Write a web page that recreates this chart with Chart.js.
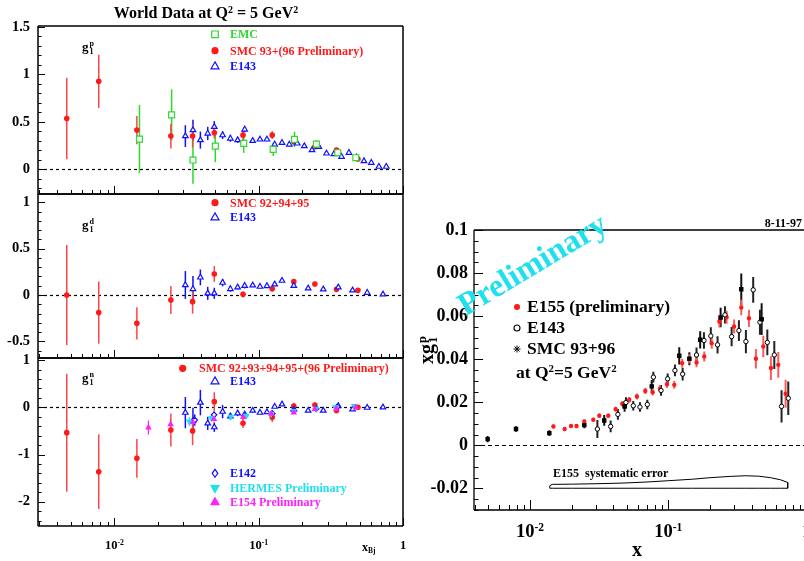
<!DOCTYPE html>
<html>
<head>
<meta charset="utf-8">
<script src="https://cdn.jsdelivr.net/npm/chart.js@4.4.0/dist/chart.umd.min.js"></script>
<style>
html, body { margin:0; padding:0; background:#fff; overflow:hidden; width:804px; height:561px; }
body { position:relative; font-family:'Liberation Serif','Times New Roman',serif; font-weight:bold; }
canvas { position:absolute; }
.t { position:absolute; white-space:nowrap; line-height:1; }
.t sup { font-size:0.62em; vertical-align:baseline; position:relative; top:-0.55em; }
.t sub { font-size:0.62em; vertical-align:baseline; position:relative; top:0.3em; }
.ss { display:inline-flex; flex-direction:column; vertical-align:middle; font-size:0.62em; line-height:0.95; margin-left:1px; }
</style>
</head>
<body>
<canvas id="c-top" width="410" height="220" style="left:0;top:0"></canvas>
<canvas id="c-mid" width="410" height="215" style="left:0;top:170px"></canvas>
<canvas id="c-bot" width="410" height="226" style="left:0;top:335px"></canvas>
<canvas id="c-right" width="400" height="361" style="left:420px;top:200px"></canvas>
<script>
const SERIF = "'Liberation Serif','Times New Roman',serif";

// ---------- left panels: x bins ----------
const smcX = [0.00467, 0.00778, 0.0143, 0.0246, 0.0348, 0.0492, 0.0778, 0.124, 0.175, 0.245, 0.346, 0.487];
const e143TopX = [0.031, 0.035, 0.0394, 0.0443, 0.0492, 0.0562, 0.0636, 0.0714, 0.0799, 0.0908, 0.102, 0.114, 0.129, 0.145,
                  0.163, 0.185, 0.207, 0.234, 0.261, 0.295, 0.332, 0.375, 0.422, 0.476, 0.536, 0.603, 0.681, 0.766];
const e143X = [0.031, 0.035, 0.0394, 0.0443, 0.0492, 0.0562, 0.0636, 0.0714, 0.0799, 0.0908, 0.102, 0.114, 0.129, 0.145,
               0.175, 0.22, 0.28, 0.356, 0.447, 0.565, 0.726];

// g1 proton
const smcP = [0.535, 0.927, 0.413, 0.350, 0.350, 0.385, 0.360, 0.360, 0.290, 0.238, 0.203, 0.108];
const smcPErr = [0.43, 0.28, 0.15, 0.13, 0.12, 0.06, 0.05, 0.04, 0.03, 0.02, 0.02, 0.015];
const emcX = [0.0149, 0.0249, 0.035, 0.05, 0.0787, 0.126, 0.177, 0.251, 0.353, 0.471];
const emcP = [0.318, 0.573, 0.098, 0.245, 0.273, 0.21, 0.315, 0.266, 0.175, 0.122];
const emcPErr = [0.36, 0.27, 0.25, 0.17, 0.10, 0.07, 0.08, 0.04, 0.03, 0.02];
const e143P = [0.35, 0.413, 0.308, 0.378, 0.448, 0.36, 0.325, 0.308, 0.42, 0.30, 0.315, 0.315, 0.262, 0.28,
               0.262, 0.273, 0.245, 0.203, 0.238, 0.168, 0.161, 0.133, 0.175, 0.126, 0.087, 0.07, 0.028, 0.028];
const e143PErr = [0.115, 0.11, 0.09, 0.07, 0.06, 0.04, 0.035, 0.03, 0.03, 0.02, 0.02, 0.02, 0.018, 0.015,
                  0.015, 0.014, 0.013, 0.012, 0.012, 0.011, 0.01, 0.01, 0.01, 0.01, 0.009, 0.009, 0.008, 0.008];

// g1 deuteron
const smcD = [0, -0.19, -0.306, -0.054, -0.072, 0.227, 0.007, 0.068, 0.144, 0.119, 0.061, 0.05];
const smcDErr = [0.54, 0.335, 0.175, 0.15, 0.13, 0.085, 0.03, 0.03, 0.02, 0.015, 0.01, 0.01];
const e143D = [0.108, 0.065, 0.19, 0.018, 0.018, 0.133, 0.065, 0.083, 0.1, 0.104, 0.09, 0.097, 0.115, 0.155,
               0.1, 0.072, 0.061, 0.083, 0.05, 0.025, 0.007];
const e143DErr = [0.15, 0.14, 0.085, 0.07, 0.06, 0.04, 0.03, 0.025, 0.03, 0.02, 0.02, 0.02, 0.02, 0.018,
                  0.015, 0.013, 0.012, 0.012, 0.01, 0.01, 0.01];

// g1 neutron
const smcN = [-0.537, -1.364, -1.08, -0.48, -0.50, 0.12, -0.34, -0.21, 0.028, 0.05, -0.07, 0.0];
const smcNErr = [1.25, 0.79, 0.41, 0.35, 0.3, 0.2, 0.1, 0.1, 0.07, 0.05, 0.04, 0.02];
const e143N = [-0.113, -0.28, 0.1, -0.34, -0.42, -0.092, -0.19, -0.127, -0.15, -0.07, -0.113, -0.1, 0.014, 0.064,
               -0.042, -0.07, -0.07, 0.028, -0.042, -0.007, 0.0];
const e143NErr = [0.33, 0.27, 0.27, 0.14, 0.1, 0.14, 0.07, 0.06, 0.05, 0.04, 0.04, 0.035, 0.03, 0.03,
                  0.03, 0.025, 0.025, 0.02, 0.02, 0.015, 0.015];
const e142X = [0.036, 0.049, 0.08, 0.124, 0.175, 0.25, 0.35];
const e142N = [-0.27, -0.16, -0.17, -0.13, -0.07, -0.03, 0.01];
const e142NErr = [0.12, 0.07, 0.05, 0.04, 0.03, 0.03, 0.03];
const hermesX = [0.033, 0.047, 0.064, 0.082, 0.122, 0.175, 0.25, 0.34, 0.46];
const hermesN = [-0.3, -0.23, -0.2, -0.18, -0.14, -0.08, -0.03, 0.0, 0.03];
const hermesNErr = [0.1, 0.06, 0.05, 0.05, 0.04, 0.03, 0.03, 0.03, 0.03];
const e154X = [0.0172, 0.0245, 0.035, 0.049, 0.078, 0.122, 0.175, 0.245, 0.345, 0.47];
const e154N = [-0.43, -0.36, -0.32, -0.25, -0.21, -0.14, -0.11, -0.04, -0.03, 0.0];
const e154NErr = [0.15, 0.1, 0.07, 0.05, 0.04, 0.03, 0.02, 0.02, 0.015, 0.015];

// ---------- right panel: x g1p ----------
const e155X = [0.01476, 0.0178, 0.0198, 0.0217, 0.0247, 0.0287, 0.0317, 0.0368, 0.0416, 0.0465, 0.0522, 0.0593, 0.0682, 0.0771,
               0.087, 0.0978, 0.1105, 0.126, 0.142, 0.160, 0.182, 0.206, 0.234, 0.264, 0.299, 0.337, 0.383, 0.43, 0.486, 0.552, 0.624, 0.705];
const e155Y = [0.0088, 0.0076, 0.009, 0.009, 0.0111, 0.0119, 0.0138, 0.0138, 0.0168, 0.0193, 0.0212, 0.0227, 0.0253, 0.0247,
               0.0263, 0.0284, 0.0281, 0.0382, 0.0402, 0.0385, 0.0413, 0.0474, 0.0575, 0.0595, 0.0552, 0.064, 0.059, 0.0402, 0.0459, 0.0359, 0.0374, 0.024];
const e155Err = [0.0009, 0.0008, 0.0008, 0.0008, 0.0009, 0.0009, 0.001, 0.001, 0.0011, 0.0012, 0.0013, 0.0014, 0.0015, 0.0015,
                 0.0016, 0.0017, 0.0018, 0.002, 0.0021, 0.0022, 0.0023, 0.0025, 0.0028, 0.003, 0.0032, 0.0036, 0.004, 0.0045, 0.005, 0.0055, 0.006, 0.0065];
const e143RX = [0.0307, 0.0383, 0.0432, 0.0494, 0.0558, 0.0624, 0.0705, 0.078, 0.0886, 0.0989, 0.1117, 0.127, 0.160, 0.181,
                0.203, 0.227, 0.257, 0.287, 0.324, 0.364, 0.411, 0.46, 0.52, 0.584, 0.659, 0.737];
const e143RY = [0.0076, 0.0088, 0.0144, 0.0199, 0.0184, 0.0178, 0.019, 0.0317, 0.0255, 0.0309, 0.0348, 0.0331, 0.042, 0.0487,
                0.0508, 0.0467, 0.0606, 0.0505, 0.0533, 0.0482, 0.0722, 0.0572, 0.0478, 0.042, 0.0181, 0.0219];
const e143RErr = [0.0042, 0.0027, 0.0025, 0.0025, 0.0022, 0.0022, 0.0022, 0.0025, 0.0025, 0.0025, 0.0027, 0.003, 0.0035, 0.0038,
                  0.004, 0.004, 0.004, 0.0045, 0.0048, 0.0054, 0.006, 0.0058, 0.006, 0.0065, 0.0075, 0.0078];
const smcRX = [0.00494, 0.00792, 0.0138, 0.0247, 0.0344, 0.0483, 0.0759, 0.120, 0.142, 0.17, 0.239, 0.337, 0.473];
const smcRY = [0.0029, 0.0076, 0.0057, 0.0094, 0.0116, 0.0181, 0.0274, 0.0416, 0.0402, 0.049, 0.0594, 0.0725, 0.0586];
const smcRErr = [0.0015, 0.0013, 0.0013, 0.0015, 0.0025, 0.0025, 0.003, 0.004, 0.003, 0.004, 0.0045, 0.0073, 0.0074];
// systematic error band outline
const sysX = [0.0139, 0.0145, 0.02, 0.03, 0.047, 0.07, 0.1, 0.15, 0.2, 0.28, 0.36, 0.45, 0.55, 0.65, 0.73];
const sysUpper = [-0.0187, -0.0181, -0.0180, -0.0178, -0.0175, -0.0170, -0.0164, -0.0157, -0.0150, -0.0144, -0.0141, -0.0143, -0.0150, -0.0160, -0.0172];
const sysLower = -0.0199;

// ---------- ticks ----------
const topTicks = [0, 0.5, 1, 1.5], topTickLabels = ['0', '0.5', '1', '1.5'];
const midTicks = [-0.5, 0, 0.5, 1], midTickLabels = ['-0.5', '0', '0.5', '1'];
const botTicks = [-2, -1, 0, 1], botTickLabels = ['-2', '-1', '0', '1'];
const rightTicks = [-0.02, 0, 0.02, 0.04, 0.06, 0.08, 0.1];
const rightTickLabels = ['-0.02', '0', '0.02', '0.04', '0.06', '0.08', '0.1'];
const xTicks = [0.01, 0.1, 1], xTickLabels = ['10<sup>-2</sup>', '10<sup>-1</sup>', '1'];

const RED = '#ff1a1a', GREEN = '#2fd82f', BLUE = '#1010ff', CYAN = '#20e0ee', MAGENTA = '#ff20ff';

function pts(xs, ys) { return xs.map((x, i) => ({x: x, y: ys[i]})); }

function drawMarker(ctx, m) {
    ctx.save();
    ctx.fillStyle = m.fill; ctx.strokeStyle = m.stroke; ctx.lineWidth = m.lw || 1.2;
    ctx.beginPath();
    if (m.style == 'circle') {
        ctx.arc(m.x, m.y, m.r, 0, Math.PI * 2);
    } else if (m.style == 'rect') {
        ctx.rect(m.x - m.r, m.y - m.r, 2 * m.r, 2 * m.r);
    } else if (m.style == 'triangle') {
        let rad = (m.rot || 0) * Math.PI / 180;
        for (let k = 0; k < 3; k++) {
            let px = m.x + Math.sin(rad) * m.r, py = m.y - Math.cos(rad) * m.r;
            k == 0 ? ctx.moveTo(px, py) : ctx.lineTo(px, py);
            rad += Math.PI * 2 / 3;
        }
        ctx.closePath();
    } else if (m.style == 'diamond') {
        ctx.moveTo(m.x, m.y - m.r); ctx.lineTo(m.x + m.r * 0.7, m.y);
        ctx.lineTo(m.x, m.y + m.r); ctx.lineTo(m.x - m.r * 0.7, m.y); ctx.closePath();
    } else if (m.style == 'star') {
        for (let k = 0; k < 4; k++) {
            let a = k * Math.PI / 4;
            ctx.moveTo(m.x - Math.cos(a) * m.r, m.y - Math.sin(a) * m.r);
            ctx.lineTo(m.x + Math.cos(a) * m.r, m.y + Math.sin(a) * m.r);
        }
        ctx.stroke(); ctx.restore(); return;
    }
    if (m.fill) ctx.fill();
    ctx.stroke();
    ctx.restore();
}

// frame, inward ticks, zero line, error bars, legend markers
const panelPlugin = {
    id: 'panel',
    beforeDatasetsDraw(chart, args, o) {
        const ctx = chart.ctx, xs = chart.scales.x, ys = chart.scales.y, a = chart.chartArea;
        ctx.save();
        ctx.beginPath(); ctx.rect(a.left, a.top, a.right - a.left, a.bottom - a.top); ctx.clip();
        const y0 = Math.round(ys.getPixelForValue(0)) + 0.5;
        ctx.setLineDash(o.dash); ctx.lineWidth = 1.2; ctx.strokeStyle = '#000';
        ctx.beginPath(); ctx.moveTo(a.left, y0); ctx.lineTo(a.right, y0); ctx.stroke();
        ctx.setLineDash([]);
        chart.data.datasets.forEach(ds => {
            if (!ds.err) return;
            ctx.strokeStyle = ds.errColor; ctx.lineWidth = ds.errWidth || 1.5;
            ds.data.forEach((p, j) => {
                const px = xs.getPixelForValue(p.x);
                ctx.beginPath();
                ctx.moveTo(px, ys.getPixelForValue(p.y - ds.err[j]));
                ctx.lineTo(px, ys.getPixelForValue(p.y + ds.err[j]));
                ctx.stroke();
            });
        });
        ctx.restore();
    },
    afterDraw(chart, args, o) {
        const ctx = chart.ctx, xs = chart.scales.x, ys = chart.scales.y, a = chart.chartArea;
        ctx.save();
        ctx.strokeStyle = '#000'; ctx.lineWidth = o.lineW;
        ctx.beginPath();
        if (o.sides.includes('left')) { ctx.moveTo(a.left, a.top); ctx.lineTo(a.left, a.bottom); }
        if (o.sides.includes('top')) { ctx.moveTo(a.left, a.top); ctx.lineTo(a.right, a.top); }
        if (o.sides.includes('right')) { ctx.moveTo(a.right, a.top); ctx.lineTo(a.right, a.bottom); }
        if (o.sides.includes('bottom')) { ctx.moveTo(a.left, a.bottom); ctx.lineTo(a.right, a.bottom); }
        ctx.stroke();
        // y ticks
        ctx.lineWidth = 1;
        ctx.beginPath();
        const n0 = Math.ceil(ys.min / o.yMinor - 1e-6), n1 = Math.floor(ys.max / o.yMinor + 1e-6);
        for (let n = n0; n <= n1; n++) {
            const v = n * o.yMinor;
            const r = v / o.yMajor, major = Math.abs(r - Math.round(r)) < 1e-6;
            const py = Math.round(ys.getPixelForValue(v)) + 0.5;
            ctx.moveTo(a.left, py); ctx.lineTo(a.left + (major ? o.majLen : o.minLen), py);
        }
        // log x ticks
        for (let d = Math.floor(Math.log10(xs.min)); d <= 0; d++) {
            for (let k = 1; k <= 9; k++) {
                const v = k * Math.pow(10, d);
                if (v < xs.min || v > xs.max * 1.0001) continue;
                const px = Math.round(xs.getPixelForValue(v)) + 0.5;
                ctx.moveTo(px, a.bottom); ctx.lineTo(px, a.bottom - (k == 1 ? o.xMajLen : o.xMinLen));
            }
        }
        ctx.stroke();
        ctx.restore();
        (o.legend || []).forEach(m => drawMarker(ctx, Object.assign({}, m, {x: m.x - o.offset[0], y: m.y - o.offset[1]})));
    }
};

function panelChart(id, cfg) {
    return new Chart(document.getElementById(id), {
        type: 'scatter',
        data: { datasets: cfg.datasets },
        options: {
            responsive: false, animation: false, devicePixelRatio: 1,
            layout: { padding: cfg.padding },
            plugins: { legend: {display: false}, tooltip: {enabled: false}, panel: cfg.panel },
            scales: {
                x: { type: 'logarithmic', min: cfg.xmin, max: cfg.xmax, display: false },
                y: {
                    type: 'linear', min: cfg.ymin, max: cfg.ymax,
                    grid: {display: false, drawTicks: false}, border: {display: false},
                    afterBuildTicks: s => { s.ticks = cfg.yTicks.map(v => ({value: v})); },
                    afterFit: s => { s.width = cfg.axisW; },
                    ticks: {
                        color: '#000', autoSkip: false, padding: cfg.tickPad,
                        font: {family: SERIF, weight: 'bold', size: cfg.fontSize},
                        callback: v => cfg.yLabels[cfg.yTicks.indexOf(v)]
                    }
                }
            }
        },
        plugins: [panelPlugin]
    });
}

function series(xs, ys, errs, style, color, opts) {
    opts = opts || {};
    return {
        data: pts(xs, ys), err: errs, errColor: opts.errColor || color, errWidth: opts.errWidth || 1.5,
        pointStyle: style, pointRadius: opts.r || 2.5, pointBorderWidth: opts.lw || 1.2,
        pointRotation: opts.rot || 0,
        pointBackgroundColor: opts.open ? '#fff' : color, pointBorderColor: color
    };
}

const leftXMin = 0.002951, leftXMax = 1.0;
const leftPanel = { sides: ['left', 'top', 'right', 'bottom'], dash: [3, 3], lineW: 1.5,
                    majLen: 7, minLen: 3.5, xMajLen: 8, xMinLen: 4 };

const topChart = panelChart('c-top', {
    padding: {top: 26, bottom: 26, left: 0, right: 7}, axisW: 38, tickPad: 8, fontSize: 14.5,
    xmin: leftXMin, xmax: leftXMax, ymin: -0.26, ymax: 1.51, yTicks: topTicks, yLabels: topTickLabels,
    panel: Object.assign({}, leftPanel, { yMajor: 0.5, yMinor: 0.1, offset: [0, 0], legend: [
        {style: 'rect', x: 215, y: 34.3, r: 3.3, fill: '#fff', stroke: GREEN},
        {style: 'circle', x: 215, y: 50.7, r: 3, fill: RED, stroke: RED},
        {style: 'triangle', x: 215, y: 66.5, r: 4.6, fill: '#fff', stroke: BLUE}] }),
    datasets: [
        series(emcX, emcP, emcPErr, 'rect', GREEN, {open: true, r: 4.2}),
        series(e143TopX, e143P, e143PErr, 'triangle', BLUE, {open: true, r: 3.2}),
        series(smcX, smcP, smcPErr, 'circle', RED, {r: 2.2, errColor: '#ff4444'})
    ]
});

const midChart = panelChart('c-mid', {
    padding: {top: 24, bottom: 27, left: 0, right: 7}, axisW: 38, tickPad: 8, fontSize: 14.5,
    xmin: leftXMin, xmax: leftXMax, ymin: -0.68, ymax: 1.09, yTicks: midTicks, yLabels: midTickLabels,
    panel: Object.assign({}, leftPanel, { yMajor: 0.5, yMinor: 0.1, offset: [0, 170], legend: [
        {style: 'circle', x: 215, y: 202.7, r: 3, fill: RED, stroke: RED},
        {style: 'triangle', x: 215, y: 217.5, r: 4.6, fill: '#fff', stroke: BLUE}] }),
    datasets: [
        series(e143X, e143D, e143DErr, 'triangle', BLUE, {open: true, r: 3.2}),
        series(smcX, smcD, smcDErr, 'circle', RED, {r: 2.2, errColor: '#ff4444'})
    ]
});

const botChart = panelChart('c-bot', {
    padding: {top: 23, bottom: 35, left: 0, right: 7}, axisW: 38, tickPad: 8, fontSize: 14.5,
    xmin: leftXMin, xmax: leftXMax, ymin: -2.515, ymax: 1.045, yTicks: botTicks, yLabels: botTickLabels,
    panel: Object.assign({}, leftPanel, { yMajor: 1, yMinor: 0.2, offset: [0, 335], legend: [
        {style: 'circle', x: 182.7, y: 368.3, r: 3, fill: RED, stroke: RED},
        {style: 'triangle', x: 215, y: 381.5, r: 4.6, fill: '#fff', stroke: BLUE},
        {style: 'diamond', x: 215, y: 473.3, r: 4, fill: '#fff', stroke: BLUE},
        {style: 'triangle', x: 215, y: 488, r: 4.6, rot: 180, fill: CYAN, stroke: CYAN},
        {style: 'triangle', x: 215, y: 502.3, r: 4.6, fill: MAGENTA, stroke: MAGENTA}] }),
    datasets: [
        series(e154X, e154N, e154NErr, 'triangle', MAGENTA, {r: 2.6, errWidth: 1.2}),
        series(hermesX, hermesN, hermesNErr, 'triangle', CYAN, {r: 2.8, rot: 180, errWidth: 1.2}),
        series(e142X, e142N, e142NErr, 'rectRot', BLUE, {open: true, r: 2.8}),
        series(e143X, e143N, e143NErr, 'triangle', BLUE, {open: true, r: 3.2}),
        series(smcX, smcN, smcNErr, 'circle', RED, {r: 2.2, errColor: '#ff4444'})
    ]
});

const bandPts = pts(sysX, sysUpper).concat(sysX.slice().reverse().map(x => ({x: x, y: sysLower})));
bandPts.push({x: sysX[0], y: sysUpper[0]});

const rightChart = panelChart('c-right', {
    padding: {top: 30, bottom: 51, left: 0, right: 13.4}, axisW: 54, tickPad: 6, fontSize: 18,
    xmin: 0.003936, xmax: 1.0, ymin: -0.03, ymax: 0.1, yTicks: rightTicks, yLabels: rightTickLabels,
    panel: { sides: ['left', 'top', 'bottom'], dash: [4, 3], lineW: 1.3, majLen: 9, minLen: 4.5,
             xMajLen: 10, xMinLen: 5, yMajor: 0.02, yMinor: 0.005, offset: [420, 200], legend: [
        {style: 'circle', x: 517, y: 307, r: 2.4, fill: RED, stroke: RED},
        {style: 'circle', x: 517, y: 328, r: 3, fill: '#fff', stroke: '#000', lw: 1.1},
        {style: 'star', x: 517, y: 349, r: 3.5, fill: '#000', stroke: '#000', lw: 1}] },
    datasets: [
        { data: bandPts, showLine: true, borderColor: '#000', borderWidth: 1, pointRadius: 0, fill: false, tension: 0 },
        series(smcRX, smcRY, smcRErr, 'rect', '#000', {r: 2.3, errColor: '#111', errWidth: 2}),
        series(e143RX, e143RY, e143RErr, 'circle', '#000', {open: true, r: 2.2, lw: 1, errColor: '#222', errWidth: 2}),
        series(e155X, e155Y, e155Err, 'circle', RED, {r: 1.6, errColor: '#ff5a5a', errWidth: 2})
    ]
});

// ---------- text ----------
function addText(html, x, y, size, color, align, extra) {
    const d = document.createElement('div');
    d.className = 't';
    d.innerHTML = html;
    d.style.left = x + 'px';
    d.style.top = y + 'px';
    d.style.fontSize = size + 'px';
    d.style.color = color || '#000';
    const tx = align == 'center' ? '-50%' : align == 'right' ? '-100%' : '0';
    d.style.transform = 'translate(' + tx + ', -50%)' + (extra || '');
    document.body.appendChild(d);
    return d;
}

addText('World Data at Q<sup>2</sup> = 5 GeV<sup>2</sup>', 206, 13, 16, '#000', 'center');
addText('EMC', 230, 34.3, 12, GREEN);
addText('SMC 93+(96 Preliminary)', 230, 50.7, 12, RED);
addText('E143', 230, 66, 12, BLUE);
addText('SMC 92+94+95', 230, 202.7, 12, RED);
addText('E143', 230, 217, 12, BLUE);
addText('SMC 92+93+94+95+(96 Preliminary)', 199, 368.3, 12, RED);
addText('E143', 230, 381.3, 12, BLUE);
addText('E142', 230, 473.3, 12, BLUE);
addText('HERMES Preliminary', 230, 488.3, 12, CYAN);
addText('E154 Preliminary', 230, 502, 12, MAGENTA);
addText('g<span class="ss"><span>p</span><span>1</span></span>', 82, 48, 13);
addText('g<span class="ss"><span>d</span><span>1</span></span>', 82, 226, 13);
addText('g<span class="ss"><span>n</span><span>1</span></span>', 82, 379, 13);

xTicks.forEach((v, i) => addText(xTickLabels[i], botChart.scales.x.getPixelForValue(v), 545, 12.5, '#000', 'center'));
addText('x<sub>Bj</sub>', 362, 547, 12);

xTicks.forEach((v, i) => addText(xTickLabels[i], 420 + rightChart.scales.x.getPixelForValue(v), 531, 18.5, '#000', 'center'));
addText('x', 637, 549, 20, '#000', 'center');
addText('xg<span class="ss"><span>p</span><span>1</span></span>', 428, 350, 20, '#000', 'center', ' rotate(-90deg)');
addText('8-11-97', 802, 223, 12, '#000', 'right');
addText('E155 (preliminary)', 527, 307, 17.5);
addText('E143', 527, 328, 17.5);
addText('SMC 93+96', 527, 349, 17.5);
addText('at Q<sup>2</sup>=5 GeV<sup>2</sup>', 516, 373, 17.5);
addText('E155&nbsp; systematic error', 553, 473, 12);
addText('Preliminary', 532, 264, 32.5, CYAN, 'center', ' rotate(-31deg)');
</script>
</body>
</html>
